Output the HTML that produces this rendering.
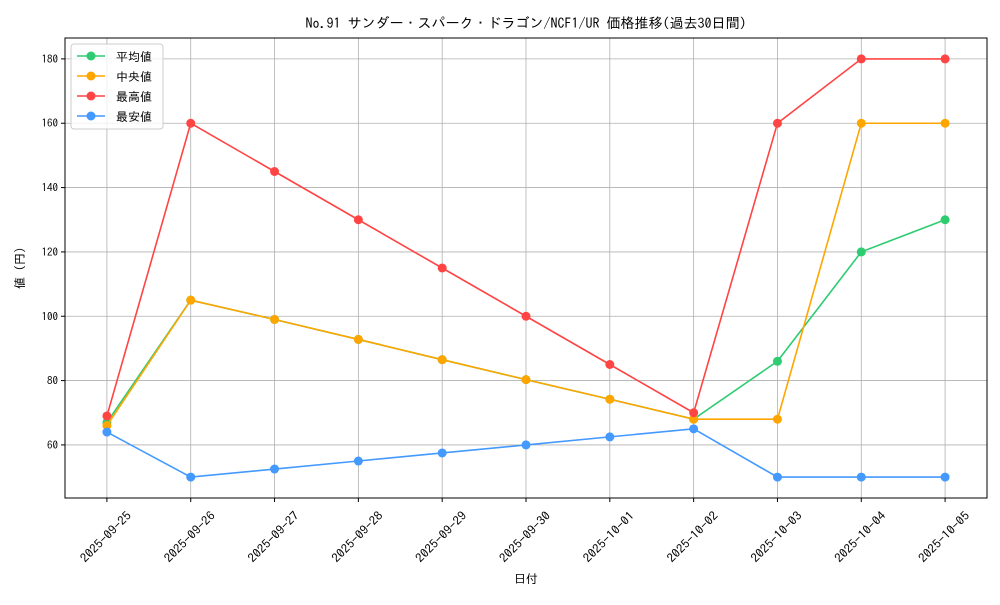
<!DOCTYPE html>
<html><head><meta charset="utf-8"><style>
body{margin:0;background:#fff;}
svg text{font-family:"IPAGothic","Liberation Sans","Noto Sans CJK JP",sans-serif;fill:#000;}
</style></head><body>
<svg id="chart" width="1000" height="600" xmlns="http://www.w3.org/2000/svg">
<rect width="1000" height="600" fill="#fff"/>
<text x="526" y="28" font-size="14" text-anchor="middle">No.91 サンダー・スパーク・ドラゴン/NCF1/UR 価格推移(過去30日間)</text>
<g id="grid"></g><g id="axes"></g><g id="series"></g>
<rect x="65" y="38" width="922" height="460" fill="none" stroke="#000" stroke-width="1"/>
<text x="526" y="583" font-size="12" text-anchor="middle">日付</text>
<text transform="translate(24,268) rotate(-90)" font-size="12" text-anchor="middle">値 (円)</text>
<g id="legend"></g>
</svg>
<script>
const categories=["2025-09-25","2025-09-26","2025-09-27","2025-09-28","2025-09-29","2025-09-30","2025-10-01","2025-10-02","2025-10-03","2025-10-04","2025-10-05"];
const avgValues=[67,105,99,92.8,86.5,80.3,74.2,68,86,120,130];
const medianValues=[66,105,99,92.8,86.5,80.3,74.2,68,68,160,160];
const maxValues=[69,160,145,130,115,100,85,70,160,180,180];
const minValues=[64,50,52.5,55,57.5,60,62.5,65,50,50,50];
const yTicks=[60,80,100,120,140,160,180];
const seriesNames=["平均値","中央値","最高値","最安値"];
const NS="http://www.w3.org/2000/svg";
const X0=65,X1=987,Y0=38,Y1=498,xmin=-0.5,xmax=10.5,ymin=43.5,ymax=186.5;
const xs=i=>X0+(i-xmin)/(xmax-xmin)*(X1-X0);
const ys=v=>Y1-(v-ymin)/(ymax-ymin)*(Y1-Y0);
function mk(t,a,p){const e=document.createElementNS(NS,t);for(const k in a)e.setAttribute(k,a[k]);p.appendChild(e);return e;}
const grid=document.getElementById('grid'),axes=document.getElementById('axes'),ser=document.getElementById('series'),leg=document.getElementById('legend');
categories.forEach((c,i)=>{const x=xs(i);
 const g=mk('line',{x1:x,x2:x,y1:Y0,y2:Y1,stroke:'#b0b0b0','stroke-width':0.8},grid);
 
 mk('line',{x1:x,x2:x,y1:Y1,y2:Y1+4,stroke:'#000'},axes);
 const t=mk('text',{transform:`translate(${x-1},${Y1+39}) rotate(-45)`,'font-size':12,'text-anchor':'middle','dominant-baseline':'central',textLength:66,lengthAdjust:'spacingAndGlyphs'},axes);
 t.textContent=c;
});
yTicks.forEach(v=>{const y=ys(v);
 const g=mk('line',{x1:X0,x2:X1,y1:y,y2:y,stroke:'#b0b0b0','stroke-width':0.8},grid);
 
 mk('line',{x1:X0-4,x2:X0,y1:y,y2:y,stroke:'#000'},axes);
 const t=mk('text',{x:X0-7,y:y+4,'font-size':11,'text-anchor':'end'},axes);
 t.textContent=v;
});
const all=[[avgValues,'#2ecc71','average'],[medianValues,'#ffa500','median'],[maxValues,'#ff4444','max'],[minValues,'#4499ff','min']];
all.forEach(([vals,col,nm])=>{
 const p=mk('polyline',{points:vals.map((v,i)=>xs(i)+','+ys(v)).join(' '),fill:'none',stroke:col,'stroke-width':1.6},ser);
 
 vals.forEach((v,i)=>{const c=mk('circle',{cx:xs(i),cy:ys(v),r:4.5,fill:col},ser);
  });
});
const lb=mk('rect',{x:71,y:44,width:92,height:85,rx:3,fill:'#fff','fill-opacity':0.8,stroke:'#ccc'},leg);

all.forEach(([vals,col,nm],i)=>{const y=56+i*20;
 const g=mk('g',{},leg);
 mk('line',{x1:77,x2:105,y1:y,y2:y,stroke:col,'stroke-width':1.6},g);
 mk('circle',{cx:91,cy:y,r:4.5,fill:col},g);
 const t=mk('text',{x:116,y:y+5,'font-size':12},g);t.textContent=seriesNames[i];
});
</script>
</body></html>
